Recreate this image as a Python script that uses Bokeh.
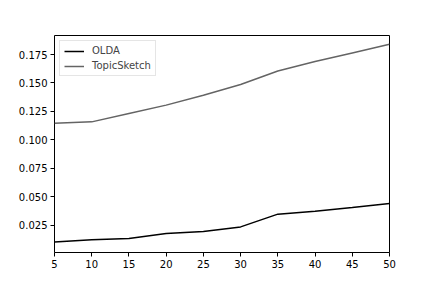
from bokeh.plotting import figure
from bokeh.models import FixedTicker, PrintfTickFormatter, Range1d, Legend, LegendItem
from bokeh.embed import file_html
from bokeh.resources import INLINE

x_values = [5, 10, 15, 20, 25, 30, 35, 40, 45, 50]
olda = [0.0103, 0.0121, 0.0133, 0.0177, 0.0195, 0.0235, 0.0347, 0.0373, 0.0406, 0.0441]
topicsketch = [0.1146, 0.1158, 0.1232, 0.1305, 0.1392, 0.1486, 0.1605, 0.1688, 0.1764, 0.1840]
y_ticks = [0.025, 0.05, 0.075, 0.1, 0.125, 0.15, 0.175]

p = figure(width=416, height=272, output_backend="svg", toolbar_location=None,
           x_range=Range1d(5, 50), y_range=Range1d(0.001, 0.1917),
           min_border_left=54, min_border_right=27, min_border_top=35, min_border_bottom=20)
p.xgrid.visible = False
p.ygrid.visible = False
p.outline_line_color = "black"
p.outline_line_width = 1
p.background_fill_color = "white"
p.border_fill_color = "white"

r1 = p.line(x_values, olda, line_color="black", line_width=1.5)
r2 = p.line(x_values, topicsketch, line_color="#646464", line_width=1.5)

p.xaxis.ticker = FixedTicker(ticks=x_values)
p.yaxis.ticker = FixedTicker(ticks=y_ticks)
p.yaxis.formatter = PrintfTickFormatter(format="%.3f")
for ax in (p.xaxis[0], p.yaxis[0]):
    ax.major_label_text_font = "DejaVu Sans"
    ax.major_label_text_font_size = "10px"
    ax.major_label_text_color = "black"
    ax.major_tick_out = 4
    ax.major_tick_in = 0
    ax.minor_tick_out = 0
    ax.minor_tick_in = 0
    ax.axis_line_color = None
    ax.major_tick_line_color = "black"
    ax.major_label_standoff = 3

legend = Legend(items=[LegendItem(label="OLDA", renderers=[r1]),
                       LegendItem(label="TopicSketch", renderers=[r2])],
                location="top_left")
legend.label_text_font = "DejaVu Sans"
legend.label_text_font_size = "10px"
legend.glyph_width = 20
legend.glyph_height = 10
legend.label_height = 10
legend.spacing = 4
legend.padding = 4
legend.margin = 5
legend.label_standoff = 8
legend.border_line_color = "#cccccc"
legend.background_fill_alpha = 0.8
p.add_layout(legend)

open("out.html", "w").write(file_html(p, INLINE))
